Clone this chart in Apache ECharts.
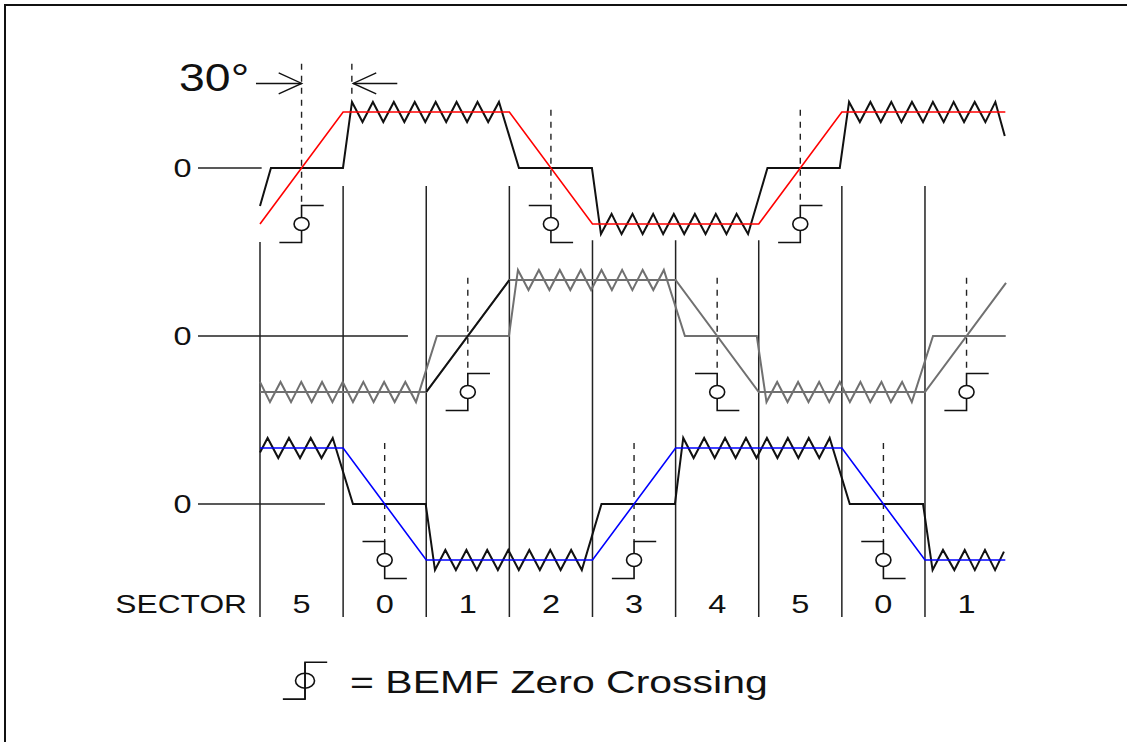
<!DOCTYPE html>
<html><head><meta charset="utf-8">
<script src="https://cdn.jsdelivr.net/npm/echarts@6/dist/echarts.min.js"></script>
<style>html,body{margin:0;padding:0;background:#fff;}#c{width:1127px;height:742px;}</style>
</head><body><div id="c"></div>
<script>
// ---------- data (x in electrical degrees, y relative to each phase's zero line) ----------
const sectorBoundaries = [0, 60, 120, 180, 240, 300, 360, 420, 480];
const sectorLineTops = [4.68, 5.68, 5.68, 5.68, 4.71, 4.71, 4.71, 5.68, 5.68];
const sectorLineBottom = -2.02;
const sectorCenters = [30, 90, 150, 210, 270, 330, 390, 450, 510];
const sectorLabels = ['5', '0', '1', '2', '3', '4', '5', '0', '1'];

// BEMF trapezoids
const bemfA = [[0,-1],[60,1],[180,1],[240,-1],[360,-1],[420,1],[538,1]];
const bemfB = [[0,-1],[120,-1],[180,1],[300,1],[360,-1],[480,-1],[538.5,0.95]];
const bemfBRise = [[120,-1],[180,1]];
const bemfC = [[0,1],[60,1],[120,-1],[240,-1],[300,1],[420,1],[480,-1],[538,-1]];

// terminal voltages with PWM ripple
const termA = [
[0,-0.68],[7.9,0],[59.9,0],
[66.4,1.18],[74,0.82],[81.5,1.18],[89,0.82],[96.6,1.18],[104.2,0.82],[111.7,1.18],[119.3,0.82],[126.8,1.18],[134.4,0.82],[141.9,1.18],[149.5,0.82],[157,1.18],[164.7,0.82],[172.5,1.18],
[186.9,0],[239.6,0],
[246.1,-1.18],[253.8,-0.82],[261,-1.18],[268.9,-0.82],[276.2,-1.18],[283.8,-0.82],[291,-1.18],[298.7,-0.82],[306.2,-1.18],[313.9,-0.82],[321.6,-1.18],[329,-0.82],[336.7,-1.18],[344,-0.82],[352.3,-1.18],
[366.3,0],[418.5,0],
[425.2,1.18],[433,0.82],[440.6,1.18],[448.1,0.82],[455.7,1.18],[463,0.82],[470.6,1.18],[478.6,0.82],[485.7,1.18],[493.5,0.82],[500.7,1.18],[508.2,0.82],[515.9,1.18],[523.6,0.82],[530.8,1.18],
[537.6,0.57]
];
const termB = [
[0,-0.82],[7.2,-1.18],[14.8,-0.82],[22.4,-1.18],[29.8,-0.82],[37.3,-1.18],[44.8,-0.82],[52.3,-1.18],[59.7,-0.82],[67.1,-1.18],[74.6,-0.82],[82,-1.18],[89.6,-0.82],[97.2,-1.18],[104.9,-0.82],[112.6,-1.18],
[127.7,0],[179.7,0],
[186.2,1.18],[193.8,0.82],[201.3,1.18],[208.9,0.82],[216.4,1.18],[224,0.82],[231.5,1.18],[239,0.82],[246.5,1.18],[254,0.82],[261.4,1.18],[268.8,0.82],[276.2,1.18],[283.9,0.82],[291.5,1.18],
[306.7,0],[358.6,0],
[365.6,-1.18],[373.3,-0.82],[380.8,-1.18],[388.4,-0.82],[395.9,-1.18],[403.6,-0.82],[410.9,-1.18],[418.5,-0.82],[425.8,-1.18],[433.4,-0.82],[440.5,-1.18],[448.6,-0.82],[455.4,-1.18],[463.5,-0.82],[470.5,-1.18],
[485.8,0],[538.3,0]
];
const termC = [
[0,0.92],[5.5,1.18],[13.2,0.82],[20.9,1.18],[28.9,0.82],[36.6,1.18],[44.4,0.82],[52.5,1.18],
[67.1,0],[119.6,0],
[126.3,-1.18],[133.8,-0.82],[141.4,-1.18],[149,-0.82],[156.5,-1.18],[164,-0.82],[171.7,-1.18],[179.2,-0.82],[186.8,-1.18],[194.4,-0.82],[202,-1.18],[209.5,-0.82],[217,-1.18],[224.6,-0.82],[232.3,-1.18],
[246.5,0],[299.5,0],
[305.5,1.18],[313,0.82],[320.6,1.18],[328.2,0.82],[335.7,1.18],[343.3,0.82],[350.8,1.18],[358.4,0.82],[365.9,1.18],[373.5,0.82],[381,1.18],[388.6,0.82],[396.1,1.18],[403.7,0.82],[411.2,1.18],
[425.7,0],[478.6,0],
[485.5,-1.18],[493,-0.82],[501.2,-1.18],[508.7,-0.82],[516,-1.18],[523.3,-0.82],[530.6,-1.18],[537,-0.85]
];

// zero crossing markers: [x, phase, direction(+1 rising / -1 falling)]
const zeroCrossings = [[30,'A',1],[210,'A',-1],[390,'A',1],[150,'B',1],[330,'B',-1],[510,'B',1],[90,'C',-1],[270,'C',1],[450,'C',-1]];
// dashed guides: [x, phase, top, bottom]
const dashedGuides = [[30,'A',1.86,-0.67],[66.3,'A',1.86,1.27],[210,'A',1.04,-0.67],[390,'A',1.04,-0.67],[150,'B',1.04,-0.67],[330,'B',1.04,-0.67],[510,'B',1.04,-0.67],[90,'C',1.09,-0.67],[270,'C',1.09,-0.67],[450,'C',1.09,-0.67]];
// zero reference lines: [xStart, xEnd, phase]
const zeroRefLines = [[-44.75,1.2,'A'],[-44.75,106.8,'B'],[-44.75,46.9,'C']];
// 30 degree arrows: [xTail, xTip, yRelA]
const angleArrows = [[-2.9,30.1,1.51],[99.1,67.3,1.51]];

const phaseLabels = ['A','B','C'];
const zeroLabel = '0';
const sectorTitle = 'SECTOR';
const angleText = '30°';
const legendText = '= BEMF Zero Crossing';

// ---------- layout ----------
const rowZero = {A: 6, B: 3, C: 0};
const shift = (arr, ph) => arr.map(p => [p[0], p[1] + rowZero[ph]]);
const FONT = '"Liberation Sans", Arial, Helvetica, sans-serif';
const INK = '#111';

function lineS(data, color, width, z) {
  return {type: 'line', data: data, symbol: 'none', showSymbol: false, silent: true, animation: false, z: z,
    lineStyle: {color: color, width: width, join: 'miter', miterLimit: 20}};
}
function textEl(p, text, size, sx, align) {
  return {type: 'text', x: p[0], y: p[1], scaleX: sx, originX: 0, originY: 0,
    style: {text: text, x: 0, y: 0, fill: INK, font: size + 'px ' + FONT,
      align: align, verticalAlign: 'middle', textAlign: align, textVerticalAlign: 'middle'}};
}
function zcShape(api, x, y0, dir, rx, ry, through, fill) {
  const pT = api.coord([x, y0 - 0.67]), pM = api.coord([x, y0 - 1]), pB = api.coord([x, y0 - 1.33]);
  const arm = api.size([16, 0])[0];
  const ch = [
    {type: 'polyline', shape: {points: [[pT[0] + dir * arm, pT[1]], pT, through ? pB : [pM[0], pM[1] - ry]]}, style: {stroke: INK, lineWidth: 1.6, fill: null}},
    {type: 'polyline', shape: {points: [through ? pT : [pM[0], pM[1] + ry], pB, [pB[0] - dir * arm, pB[1]]]}, style: {stroke: INK, lineWidth: 1.6, fill: null}},
    {type: 'ellipse', shape: {cx: pM[0], cy: pM[1], rx: rx, ry: ry}, style: {stroke: INK, lineWidth: 1.6, fill: fill}}
  ];
  return {type: 'group', children: ch};
}

const chart = echarts.init(document.getElementById('c'), null, {renderer: 'svg'});
const option = {
  animation: false,
  backgroundColor: '#fff',
  grid: {left: 10.63, top: 0, width: 1108.3, height: 728},
  xAxis: {type: 'value', min: -180, max: 620, show: false},
  yAxis: {type: 'value', min: -4, max: 9, show: false},
  graphic: [
    {type: 'line', shape: {x1: 4, y1: 5, x2: 1127, y2: 5}, style: {stroke: '#111', lineWidth: 2}},
    {type: 'line', shape: {x1: 5, y1: 4, x2: 5, y2: 742}, style: {stroke: '#111', lineWidth: 2}}
  ],
  series: [
    // sector boundary lines
    {type: 'custom', silent: true, z: 1,
      data: sectorBoundaries.map((x, i) => [x, sectorLineTops[i], sectorLineBottom]),
      renderItem: (params, api) => {
        const a = api.coord([api.value(0), api.value(1)]), b = api.coord([api.value(0), api.value(2)]);
        return {type: 'line', shape: {x1: a[0], y1: a[1], x2: b[0], y2: b[1]}, style: {stroke: '#222', lineWidth: 1.5}};
      }},
    // zero reference lines
    {type: 'custom', silent: true, z: 1,
      data: zeroRefLines.map(d => [d[0], d[1], rowZero[d[2]]]),
      renderItem: (params, api) => {
        const a = api.coord([api.value(0), api.value(2)]), b = api.coord([api.value(1), api.value(2)]);
        return {type: 'line', shape: {x1: a[0], y1: a[1], x2: b[0], y2: b[1]}, style: {stroke: '#222', lineWidth: 1.4}};
      }},
    // dashed guides
    {type: 'custom', silent: true, z: 1,
      data: dashedGuides.map(d => [d[0], d[2] + rowZero[d[1]], d[3] + rowZero[d[1]]]),
      renderItem: (params, api) => {
        const a = api.coord([api.value(0), api.value(1)]), b = api.coord([api.value(0), api.value(2)]);
        return {type: 'line', shape: {x1: a[0], y1: a[1], x2: b[0], y2: b[1]}, style: {stroke: '#222', lineWidth: 1.4, lineDash: [6, 6]}};
      }},
    // waveforms
    lineS(shift(termB, 'B'), '#707070', 2, 3),
    lineS(shift(bemfB, 'B'), '#707070', 2, 3),
    lineS(shift(bemfBRise, 'B'), '#111', 2, 4),
    lineS(shift(termA, 'A'), '#111', 2, 3),
    lineS(shift(bemfA, 'A'), '#ff0000', 1.6, 4),
    lineS(shift(termC, 'C'), '#111', 2, 3),
    lineS(shift(bemfC, 'C'), '#0000ff', 1.6, 4),
    // zero crossing symbols
    {type: 'custom', silent: true, z: 5,
      data: zeroCrossings.map(d => [d[0], rowZero[d[1]], d[2]]),
      renderItem: (params, api) => zcShape(api, api.value(0), api.value(1), api.value(2), 7.5, 6.5, false, '#fff')},
    // legend symbol
    {type: 'custom', silent: true, z: 5,
      data: [[32.5, -2.155, 1]],
      renderItem: (params, api) => zcShape(api, api.value(0), api.value(1), api.value(2), 9.5, 7.5, true, null)},
    // 30 degree arrows
    {type: 'custom', silent: true, z: 5,
      data: angleArrows.map(d => [d[0], d[1], d[2] + rowZero.A]),
      renderItem: (params, api) => {
        const t = api.coord([api.value(0), api.value(2)]), h = api.coord([api.value(1), api.value(2)]);
        const dir = h[0] > t[0] ? 1 : -1;
        return {type: 'group', children: [
          {type: 'line', shape: {x1: t[0], y1: t[1], x2: h[0], y2: h[1]}, style: {stroke: INK, lineWidth: 1.4}},
          {type: 'polyline', shape: {points: [[h[0] - dir * 23, h[1] - 10.5], h, [h[0] - dir * 23, h[1] + 10.5]]}, style: {stroke: INK, lineWidth: 1.4, fill: null}}
        ]};
      }},
    // zero labels
    {type: 'custom', silent: true, z: 6,
      data: phaseLabels.map(ph => [-55.9, rowZero[ph]]),
      renderItem: (params, api) => textEl(api.coord([api.value(0), api.value(1)]), zeroLabel, 26, 1.25, 'center')},
    // sector numbers
    {type: 'custom', silent: true, z: 6,
      data: sectorCenters.map(x => [x, -1.786]),
      renderItem: (params, api) => textEl(api.coord([api.value(0), api.value(1)]), sectorLabels[params.dataIndex], 26, 1.25, 'center')},
    // SECTOR title, 30°, legend text
    {type: 'custom', silent: true, z: 6,
      data: [[-9.4, -1.786], [-58.4, 7.609], [65, -3.179]],
      renderItem: (params, api) => {
        const p = api.coord([api.value(0), api.value(1)]);
        if (params.dataIndex === 0) return textEl(p, sectorTitle, 26, 1.22, 'right');
        if (params.dataIndex === 1) return textEl(p, angleText, 38, 1.22, 'left');
        return textEl(p, legendText, 32, 1.28, 'left');
      }}
  ]
};
chart.setOption(option);
</script>
</body></html>
